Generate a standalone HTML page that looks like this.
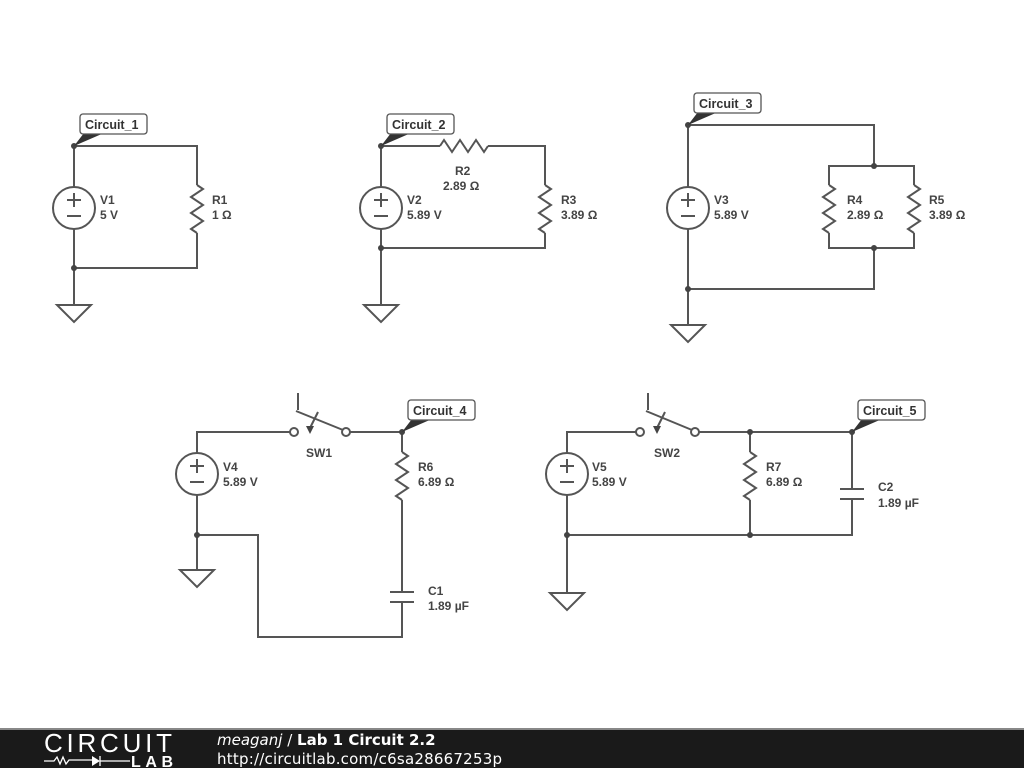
<!DOCTYPE html>
<html><head><meta charset="utf-8"><style>
html,body{margin:0;padding:0;background:#fff;width:1024px;height:768px;overflow:hidden}
svg{display:block}
text{font-family:"Liberation Sans",sans-serif;font-size:12px;font-weight:bold;fill:#444}
.w{stroke:#555;stroke-width:2;fill:none}
.lb{fill:#fff;stroke:#555;stroke-width:1.3}
.lt{font-size:12.5px;fill:#333}
</style></head><body>
<svg width="1024" height="768" viewBox="0 0 1024 768">
<defs>
<g id="gnd"><path class="w" d="M-17,0 L17,0 L0,17 Z"/></g>
<g id="src"><circle class="w" cx="0" cy="0" r="21"/><path class="w" d="M-7,-8 h14 M0,-15 v14 M-7,8 h14" stroke-width="1.5"/></g>
<g id="rv"><path class="w" d="M0,0 l6,4 l-12,8 l12,8 l-12,8 l12,8 l-12,8 l6,4"/></g>
</defs>
<!-- Circuit 1 -->
<path class="w" d="M74,146 H197 V185 M197,233 V268 H74 V305 M74,146 V187 M74,229 V268"/>
<use href="#rv" x="197" y="185"/>
<use href="#src" x="74" y="208"/>
<use href="#gnd" x="74" y="305"/>
<circle cx="74" cy="146" r="3" fill="#444"/><circle cx="74" cy="268" r="3" fill="#444"/>
<path d="M74,146 L84,133 L104,133 Z" fill="#333"/>
<rect class="lb" x="80" y="114" width="67" height="20" rx="3"/>
<text class="lt" x="85" y="129">Circuit_1</text>
<text x="100" y="204">V1</text><text x="100" y="219">5 V</text>
<text x="212" y="204">R1</text><text x="212" y="219">1 Ω</text>
<!-- Circuit 2 -->
<path class="w" d="M381,146 H440 M488,146 H545 V185 M545,233 V248 H381 V305 M381,146 V187 M381,229 V248"/>
<path class="w" d="M440,146 l4,-6 l8,12 l8,-12 l8,12 l8,-12 l8,12 l4,-6"/>
<use href="#rv" x="545" y="185"/>
<use href="#src" x="381" y="208"/>
<use href="#gnd" x="381" y="305"/>
<circle cx="381" cy="146" r="3" fill="#444"/><circle cx="381" cy="248" r="3" fill="#444"/>
<path d="M381,146 L391,133 L411,133 Z" fill="#333"/>
<rect class="lb" x="387" y="114" width="67" height="20" rx="3"/>
<text class="lt" x="392" y="129">Circuit_2</text>
<text x="455" y="175">R2</text><text x="443" y="190">2.89 Ω</text>
<text x="407" y="204">V2</text><text x="407" y="219">5.89 V</text>
<text x="561" y="204">R3</text><text x="561" y="219">3.89 Ω</text>
<!-- Circuit 3 -->
<path class="w" d="M688,125 H874 V166 M829,185 V166 H914 V185 M829,233 V248 H914 V233 M874,248 V289 H688 V325 M688,125 V187 M688,229 V289"/>
<use href="#rv" x="829" y="185"/><use href="#rv" x="914" y="185"/>
<use href="#src" x="688" y="208"/>
<use href="#gnd" x="688" y="325"/>
<circle cx="688" cy="125" r="3" fill="#444"/><circle cx="874" cy="166" r="3" fill="#444"/><circle cx="874" cy="248" r="3" fill="#444"/><circle cx="688" cy="289" r="3" fill="#444"/>
<path d="M688,125 L698,112 L718,112 Z" fill="#333"/>
<rect class="lb" x="694" y="93" width="67" height="20" rx="3"/>
<text class="lt" x="699" y="108">Circuit_3</text>
<text x="714" y="204">V3</text><text x="714" y="219">5.89 V</text>
<text x="847" y="204">R4</text><text x="847" y="219">2.89 Ω</text>
<text x="929" y="204">R5</text><text x="929" y="219">3.89 Ω</text>
<!-- Circuit 4 -->
<path class="w" d="M290,432 H197 V453 M197,495 V535 V570 M197,535 H258 V637 H402 V602 M402,592 V500 M402,452 V432 H350"/>
<path class="w" d="M390,592 h24 M390,602 h24"/>
<use href="#rv" x="402" y="452"/>
<circle class="w" cx="294" cy="432" r="4" stroke-width="1.5"/><circle class="w" cx="346" cy="432" r="4" stroke-width="1.5"/>
<path class="w" d="M298,393 V410 M296,411 L343,430" stroke-width="1.8"/>
<path class="w" d="M318,412 L310,428" stroke-width="1.3"/><path d="M306,426 L314,426 L310,434 Z" fill="#444"/>
<use href="#src" x="197" y="474"/>
<use href="#gnd" x="197" y="570"/>
<circle cx="402" cy="432" r="3" fill="#444"/><circle cx="197" cy="535" r="3" fill="#444"/>
<path d="M402,432 L412,419 L432,419 Z" fill="#333"/>
<rect class="lb" x="408" y="400" width="67" height="20" rx="3"/>
<text class="lt" x="413" y="415">Circuit_4</text>
<text x="306" y="457">SW1</text>
<text x="223" y="471">V4</text><text x="223" y="486">5.89 V</text>
<text x="418" y="471">R6</text><text x="418" y="486">6.89 Ω</text>
<text x="428" y="595">C1</text><text x="428" y="610">1.89 µF</text>
<!-- Circuit 5 -->
<path class="w" d="M636,432 H567 V453 M567,495 V535 V593 M567,535 H852 V499 M852,489 V432 H699 M750,432 V452 M750,500 V535"/>
<path class="w" d="M840,489 h24 M840,499 h24"/>
<use href="#rv" x="750" y="452"/>
<circle class="w" cx="640" cy="432" r="4" stroke-width="1.5"/><circle class="w" cx="695" cy="432" r="4" stroke-width="1.5"/>
<path class="w" d="M648,393 V410 M646,411 L692,430" stroke-width="1.8"/>
<path class="w" d="M665,412 L657,428" stroke-width="1.3"/><path d="M653,426 L661,426 L657,434 Z" fill="#444"/>
<use href="#src" x="567" y="474"/>
<use href="#gnd" x="567" y="593"/>
<circle cx="750" cy="432" r="3" fill="#444"/><circle cx="852" cy="432" r="3" fill="#444"/><circle cx="567" cy="535" r="3" fill="#444"/><circle cx="750" cy="535" r="3" fill="#444"/>
<path d="M852,432 L862,419 L882,419 Z" fill="#333"/>
<rect class="lb" x="858" y="400" width="67" height="20" rx="3"/>
<text class="lt" x="863" y="415">Circuit_5</text>
<text x="654" y="457">SW2</text>
<text x="592" y="471">V5</text><text x="592" y="486">5.89 V</text>
<text x="766" y="471">R7</text><text x="766" y="486">6.89 Ω</text>
<text x="878" y="491">C2</text><text x="878" y="507">1.89 µF</text>
<!-- footer -->
<rect x="0" y="728" width="1024" height="40" fill="#1a1a1a"/>
<rect x="0" y="728" width="1024" height="2" fill="#888"/>
<text x="44" y="752" style="font-size:26px;font-weight:normal;fill:#fff" textLength="128">CIRCUIT</text>
<path d="M44,761 h10 l3,-4 l3,7 l3,-7 l3,7 l3,-4 h25 M100,756 v10 M100,761 h30" stroke="#fff" stroke-width="1.3" fill="none"/>
<path d="M92,756 L100,761 L92,766 Z" fill="#fff"/>
<text x="131" y="767" style="font-size:16px;font-weight:bold;fill:#fff" textLength="42">LAB</text>
<text x="217" y="745" style="font-size:15px;font-weight:normal;fill:#fff;font-family:'DejaVu Sans',sans-serif"><tspan font-style="italic">meaganj</tspan> / <tspan font-weight="bold">Lab 1 Circuit 2.2</tspan></text>
<text x="217" y="764" style="font-size:15px;font-weight:normal;fill:#fff;font-family:'DejaVu Sans',sans-serif" textLength="285">http://circuitlab.com/c6sa28667253p</text>
</svg>
</body></html>
